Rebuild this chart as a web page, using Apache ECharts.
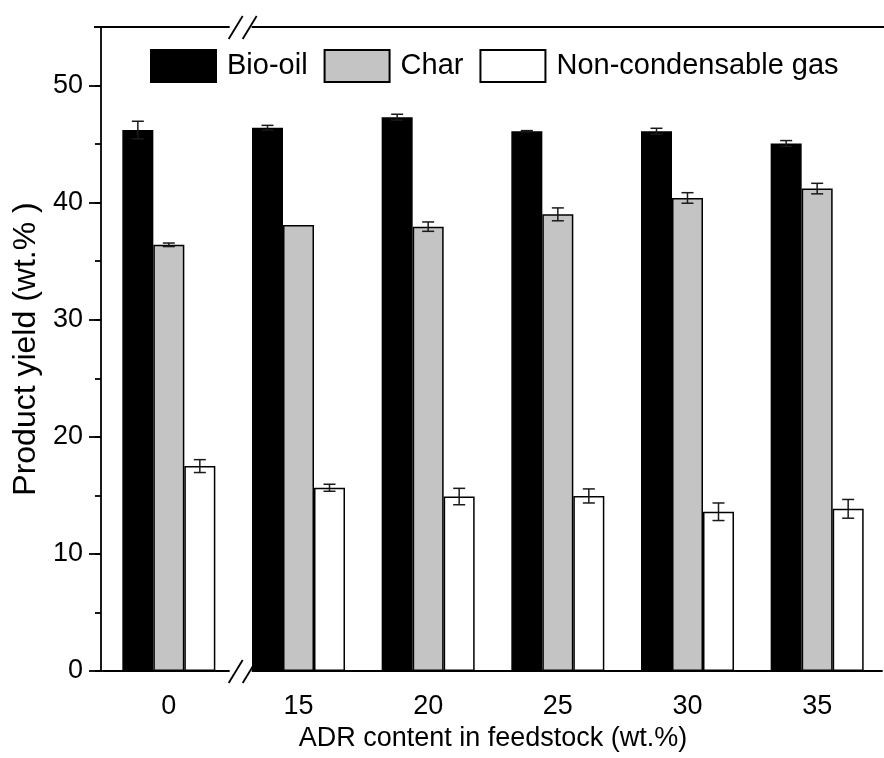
<!DOCTYPE html>
<html>
<head>
<meta charset="utf-8">
<script src="https://cdn.jsdelivr.net/npm/echarts@6/dist/echarts.min.js"></script>
<style>
    html, body { margin: 0; padding: 0; background: #fff; }
    #main { width: 884px; height: 758px; }
</style>
</head>
<body>
<div id="main"></div>
<script>
// ADR content categories (x axis, broken between 0 and 15)
var categories = ['0', '15', '20', '25', '30', '35'];
var yTicks = [0, 10, 20, 30, 40, 50];

// product yields (wt.%) and their error bars
var bioOil = [46.2, 46.4, 47.3, 46.1, 46.1, 45.05];
var bioOilErr = [0.75, 0.2, 0.25, 0.05, 0.25, 0.25];
var charYield = [36.4, 38.1, 37.95, 39.0, 40.4, 41.2];
var charErr = [0.15, 0, 0.4, 0.55, 0.45, 0.45];
var gasYield = [17.5, 15.65, 14.9, 14.95, 13.6, 13.85];
var gasErr = [0.55, 0.3, 0.7, 0.6, 0.75, 0.8];

var BAR_W = 31;
var FONT = 'Liberation Sans, Arial, sans-serif';

var chartDom = document.getElementById('main');
var myChart = echarts.init(chartDom);

function barSeries(name, data, color) {
    return {
        name: name,
        type: 'bar',
        barWidth: BAR_W,
        barGap: '0%',
        data: data,
        itemStyle: { color: color, borderColor: '#000', borderWidth: 1.5 },
        emphasis: { disabled: true }
    };
}

function errSeries(vals, errs, shift) {
    return {
        type: 'custom',
        silent: true,
        z: 10,
        encode: { x: 0, y: 1 },
        data: vals.map(function (v, i) { return [i, v, errs[i]]; }),
        renderItem: function (params, api) {
            var e = api.value(2);
            if (!e) return;
            var hi = api.coord([api.value(0), api.value(1) + e]);
            var lo = api.coord([api.value(0), api.value(1) - e]);
            var x = hi[0] + shift;
            var w = 6;
            var st = { stroke: '#1a1a1a', lineWidth: 1.5 };
            return {
                type: 'group',
                children: [
                    { type: 'line', shape: { x1: x, y1: hi[1], x2: x, y2: lo[1] }, style: st },
                    { type: 'line', shape: { x1: x - w, y1: hi[1], x2: x + w, y2: hi[1] }, style: st },
                    { type: 'line', shape: { x1: x - w, y1: lo[1], x2: x + w, y2: lo[1] }, style: st }
                ]
            };
        }
    };
}

var option = {
    animation: false,
    backgroundColor: '#fff',
    grid: { left: 104, right: 2, top: 27, bottom: 87 },
    legend: {
        data: ['Bio-oil', 'Char', 'Non-condensable gas'],
        left: 145,
        top: 44,
        icon: 'rect',
        itemWidth: 65,
        itemHeight: 32,
        itemGap: 16,
        textStyle: { fontSize: 29, color: '#000', fontFamily: FONT, padding: [0, 0, 0, 6] }
    },
    xAxis: [
        {
            type: 'category',
            data: categories,
            position: 'bottom',
            axisLine: { lineStyle: { color: '#000', width: 1.8 } },
            axisTick: { alignWithLabel: true, length: 11, lineStyle: { color: '#000', width: 1.8 } },
            axisLabel: { fontSize: 27, color: '#000', fontFamily: FONT, margin: 22 },
            name: 'ADR content in feedstock (wt.%)',
            nameLocation: 'middle',
            nameGap: 45,
            nameTextStyle: { fontSize: 27, color: '#000', fontFamily: FONT }
        },
        {
            type: 'category',
            data: categories,
            position: 'bottom',
            axisLine: { show: false },
            axisTick: { length: 6, lineStyle: { color: '#000', width: 1.8 } },
            axisLabel: { show: false }
        }
    ],
    yAxis: [
        {
            type: 'value',
            min: 0,
            max: 55,
            offset: 3,
            position: 'left',
            splitLine: { show: false },
            axisLine: { show: true, lineStyle: { color: '#000', width: 1.8 } },
            axisTick: { show: true, customValues: yTicks, length: 12, lineStyle: { color: '#000', width: 1.8 } },
            axisLabel: { customValues: yTicks, fontSize: 27, color: '#000', fontFamily: FONT, margin: 18 },
            name: 'Product yield (wt.% )',
            nameLocation: 'middle',
            nameGap: 58,
            nameTextStyle: { fontSize: 32, color: '#000', fontFamily: FONT }
        },
        {
            type: 'value',
            min: 0,
            max: 55,
            interval: 5,
            offset: 3,
            position: 'left',
            splitLine: { show: false },
            axisLine: { show: false },
            axisTick: { show: true, length: 6, lineStyle: { color: '#000', width: 1.8 } },
            axisLabel: { show: false }
        }
    ],
    series: [
        barSeries('Bio-oil', bioOil, '#000'),
        barSeries('Char', charYield, '#c4c4c4'),
        barSeries('Non-condensable gas', gasYield, '#fff'),
        errSeries(bioOil, bioOilErr, -BAR_W),
        errSeries(charYield, charErr, 0),
        errSeries(gasYield, gasErr, BAR_W)
    ]
};

myChart.setOption(option);

// frame line on top, axis break marks between 0 and 15
var c0 = myChart.convertToPixel({ xAxisIndex: 0 }, 0);
var c1 = myChart.convertToPixel({ xAxisIndex: 0 }, 1);
var bx = (c0 + c1) / 2 + 8;
var yBot = myChart.convertToPixel({ yAxisIndex: 0 }, 0);
var yTop = myChart.convertToPixel({ yAxisIndex: 0 }, 55);
var axisX = 101;

function breakMark(y) {
    var st = { stroke: '#000', lineWidth: 1.8 };
    return [
        { type: 'rect', z: 100, shape: { x: bx - 12, y: y - 5, width: 22, height: 10 }, style: { fill: '#fff' } },
        { type: 'line', z: 101, shape: { x1: bx - 13, y1: y + 12, x2: bx + 1, y2: y - 11 }, style: st },
        { type: 'line', z: 101, shape: { x1: bx + 1, y1: y + 12, x2: bx + 15, y2: y - 11 }, style: st }
    ];
}

myChart.setOption({
    graphic: [
        { type: 'line', z: 50, shape: { x1: axisX - 7, y1: yTop, x2: 884, y2: yTop }, style: { stroke: '#000', lineWidth: 1.8 } },
        { type: 'line', z: 50, shape: { x1: axisX - 1, y1: yBot, x2: axisX + 4, y2: yBot }, style: { stroke: '#000', lineWidth: 1.8 } }
    ].concat(breakMark(yBot), breakMark(yTop))
});
</script>
</body>
</html>
